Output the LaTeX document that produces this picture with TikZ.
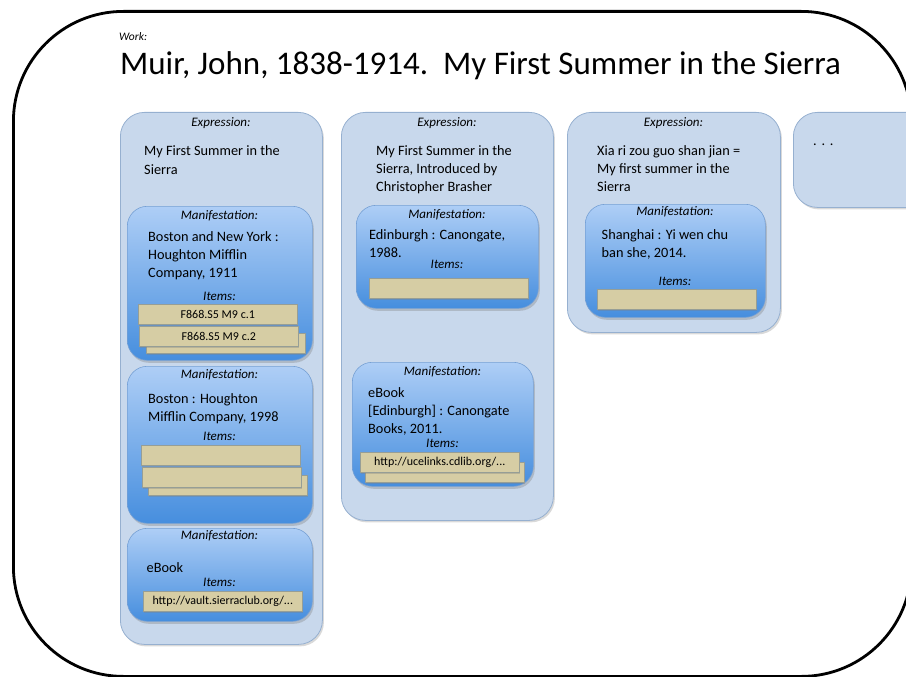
\documentclass[tikz,border=0pt]{standalone}
\usepackage{fontspec}
\setmainfont{Carlito}
\usepackage{tikz}
\usetikzlibrary{shadows,positioning}

\definecolor{exprfill}{RGB}{200,216,236}
\definecolor{exprline}{RGB}{150,176,208}
\definecolor{mantop}{RGB}{174,206,246}
\definecolor{manbot}{RGB}{70,142,222}
\definecolor{manline}{RGB}{118,160,212}
\definecolor{itemfill}{RGB}{214,205,164}
\definecolor{itemline}{RGB}{150,158,150}

\tikzset{
  workbox/.style={draw, line width=2.8pt, rounded corners=110pt, anchor=north west, inner sep=0pt},
  exprbox/.style={draw=exprline, fill=exprfill, line width=0.8pt, rounded corners=24pt, anchor=north west, inner sep=0pt,
    drop shadow={shadow xshift=1.5pt, shadow yshift=-2pt, opacity=.3}},
  manbox/.style={draw=manline, top color=mantop, bottom color=manbot, line width=0.6pt, rounded corners=20pt, anchor=north west, inner sep=0pt,
    drop shadow={shadow xshift=1.5pt, shadow yshift=-2.5pt, opacity=.35}},
  itembox/.style={draw=itemline, fill=itemfill, line width=0.6pt, anchor=north west, inner sep=0pt, minimum width=159pt, minimum height=20pt,
    font=\fontsize{12}{14}\selectfont, drop shadow={shadow xshift=1pt, shadow yshift=-1.5pt, opacity=.35}},
  tag/.style={font=\itshape\fontsize{13}{15}\selectfont, anchor=base, inner sep=0pt},
  body/.style={font=\fontsize{14.3}{18}\selectfont, align=left, anchor=base west, inner sep=0pt}
}

\begin{document}
\begin{tikzpicture}[x=1pt,y=-1pt]
\useasboundingbox (0,0) rectangle (906,677);
\clip (0,0) rectangle (906,677);

\node (work) at (12,10) [workbox, minimum width=898pt, minimum height=665pt] {};
\node (worktag) at (119,40.5) [anchor=base west, inner sep=0pt, font=\itshape\fontsize{11.5}{13}\selectfont] {Work:};
\node (title) at (120,75) [anchor=base west, inner sep=0pt, font=\fontsize{33}{38}\selectfont] {Muir, John, 1838-1914.\ \ My First Summer in the Sierra};

\node (e1) at (120,112) [exprbox, minimum width=202pt, minimum height=532pt] {};
\node (e1tag) at (221,126.5) [tag] {Expression:};
\node (e1txt) at (144,174) [body] {My First Summer in the\\Sierra};

\node (m11) at (127,206) [manbox, minimum width=185pt, minimum height=154pt] {};
\node (m11tag) at (219.5,219) [tag] {Manifestation:};
\node (m11txt) at (148,277) [body] {Boston and New York :\\Houghton Mifflin\\Company, 1911};
\node (m11it) at (219.5,300) [tag] {Items:};
\node (i113) at (146,333) [itembox] {};
\node (i112) at (139,326) [itembox] {F868.S5 M9 c.2};
\node (i111) at (138,304) [itembox] {F868.S5 M9 c.1};

\node (m12) at (127,366) [manbox, minimum width=185pt, minimum height=157pt] {};
\node (m12tag) at (219.5,378) [tag] {Manifestation:};
\node (m12txt) at (148,421) [body] {Boston : Houghton\\Mifflin Company, 1998};
\node (m12it) at (219.5,440) [tag] {Items:};
\node (i123) at (148,475) [itembox] {};
\node (i122) at (142,467) [itembox] {};
\node (i121) at (141,445) [itembox] {};

\node (m13) at (127,528) [manbox, minimum width=185pt, minimum height=93pt] {};
\node (m13tag) at (219.5,539) [tag] {Manifestation:};
\node (m13txt) at (146.5,572) [body] {eBook};
\node (m13it) at (219.5,586) [tag] {Items:};
\node (i131) at (143,591) [itembox] {http://vault.sierraclub.org/...};

\node (e2) at (341,112) [exprbox, minimum width=212pt, minimum height=408pt] {};
\node (e2tag) at (447,126.5) [tag] {Expression:};
\node (e2txt) at (376,191) [body] {My First Summer in the\\Sierra, Introduced by\\Christopher Brasher};

\node (m21) at (356,205) [manbox, minimum width=182pt, minimum height=103pt] {};
\node (m21tag) at (447,218) [tag] {Manifestation:};
\node (m21txt) at (369,257.5) [body] {Edinburgh : Canongate,\\1988.};
\node (m21it) at (447,268) [tag] {Items:};
\node (i211) at (369,278) [itembox] {};

\node (m22) at (352,362) [manbox, minimum width=181pt, minimum height=124pt] {};
\node (m22tag) at (442.5,375) [tag] {Manifestation:};
\node (m22txt) at (368,433) [body] {eBook\\{}[Edinburgh] : Canongate\\Books, 2011.};
\node (m22it) at (442.5,447) [tag] {Items:};
\node (i222) at (365,462) [itembox] {};
\node (i221) at (360,452) [itembox] {http://ucelinks.cdlib.org/...};

\node (e3) at (567,112) [exprbox, minimum width=213pt, minimum height=220pt] {};
\node (e3tag) at (673.5,126.5) [tag] {Expression:};
\node (e3txt) at (597,191) [body] {Xia ri zou guo shan jian =\\My first summer in the\\Sierra};

\node (m31) at (585,204) [manbox, minimum width=180pt, minimum height=113pt] {};
\node (m31tag) at (675,215) [tag] {Manifestation:};
\node (m31txt) at (601.5,257.5) [body] {Shanghai : Yi wen chu\\ban she, 2014.};
\node (m31it) at (675,285) [tag] {Items:};
\node (i311) at (597,289) [itembox] {};

\node (e4) at (793,112) [exprbox, minimum width=160pt, minimum height=95pt] {};
\node (e4txt) at (813,146) [body] {.\,\,.\,\,.};

\end{tikzpicture}
\end{document}
